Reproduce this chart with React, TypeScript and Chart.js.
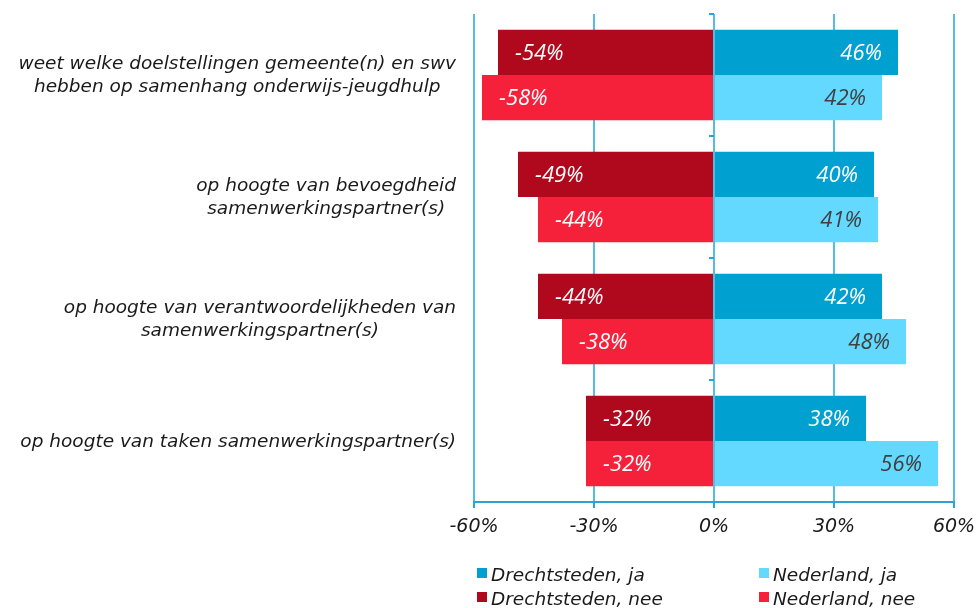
import React, { useEffect, useRef } from "react";
import { Chart, registerables } from "chart.js";
Chart.register(...registerables);

const categories: string[][] = [
  ["weet welke doelstellingen gemeente(n) en swv", "hebben op samenhang onderwijs-jeugdhulp"],
  ["op hoogte van bevoegdheid", "samenwerkingspartner(s)"],
  ["op hoogte van verantwoordelijkheden van", "samenwerkingspartner(s)"],
  ["op hoogte van taken samenwerkingspartner(s)"],
];
const drechtstedenJa = [46, 40, 42, 38];
const nederlandJa = [42, 41, 48, 56];
const drechtstedenNee = [-54, -49, -44, -32];
const nederlandNee = [-58, -44, -38, -32];
const xMin = -60;
const xMax = 60;
const xStep = 30;

const seriesNames = ["Drechtsteden, ja", "Nederland, ja", "Drechtsteden, nee", "Nederland, nee"];
const seriesColors = ["#00A0D0", "#63D9FF", "#B0081C", "#F5213A"];
const labelColors = ["#FFFFFF", "#404040", "#FFFFFF", "#FFFFFF"];
const gridColor = "#55BDE4";
const axisColor = "#2AA3D6";
const textColor = "#1A1A1A";
const catFont = 'italic 18.5px "DejaVu Sans"';

const categoryLabelsPlugin = {
  id: "catLabels",
  afterDraw(chart: any) {
    const ctx = chart.ctx;
    const yScale = chart.scales.y;
    const left = chart.chartArea.left;
    ctx.save();
    ctx.font = catFont;
    ctx.fillStyle = textColor;
    ctx.textAlign = "center";
    ctx.textBaseline = "middle";
    const lh = 23;
    categories.forEach((lines, i) => {
      const cy = yScale.getPixelForValue(i);
      const widest = Math.max(...lines.map((l) => ctx.measureText(l).width));
      const cx = left - 18 - widest / 2;
      lines.forEach((line, j) => {
        ctx.fillText(line, cx, cy + 1 + (j - (lines.length - 1) / 2) * lh);
      });
    });
    ctx.restore();
  },
};

const zeroTicksPlugin = {
  id: "zeroTicks",
  afterDraw(chart: any) {
    const ctx = chart.ctx;
    const x0 = chart.scales.x.getPixelForValue(0);
    const yScale = chart.scales.y;
    ctx.save();
    ctx.strokeStyle = axisColor;
    ctx.lineWidth = 2;
    for (let i = 0; i <= categories.length; i++) {
      const y = Math.round(yScale.getPixelForValue(i - 0.5));
      ctx.beginPath();
      ctx.moveTo(x0 - 5, y);
      ctx.lineTo(x0, y);
      ctx.stroke();
    }
    ctx.restore();
  },
};

const dataLabelsPlugin = {
  id: "dataLabels",
  afterDatasetsDraw(chart: any) {
    const ctx = chart.ctx;
    ctx.save();
    ctx.font = 'italic 22px "Open Sans"';
    ctx.textBaseline = "middle";
    chart.data.datasets.forEach((ds: any, di: number) => {
      const meta = chart.getDatasetMeta(di);
      meta.data.forEach((el: any, i: number) => {
        const v = ds.data[i];
        const { x, y } = el.getProps(["x", "y"], true);
        ctx.fillStyle = labelColors[di];
        if (v < 0) {
          ctx.textAlign = "left";
          ctx.fillText(v + "%", x + 17, y + 1);
        } else {
          ctx.textAlign = "right";
          ctx.fillText(v + "%", x - 16, y + 1);
        }
      });
    });
    ctx.restore();
  },
};

const legendPlugin = {
  id: "customLegend",
  afterDraw(chart: any) {
    const ctx = chart.ctx;
    const left = chart.chartArea.left;
    const colX = [left + 3, left + 285];
    const rowY = [chart.height - 35, chart.height - 11];
    ctx.save();
    ctx.font = catFont;
    ctx.textAlign = "left";
    ctx.textBaseline = "middle";
    seriesNames.forEach((name, i) => {
      const col = i % 2;
      const row = Math.floor(i / 2);
      const bx = colX[col];
      const by = rowY[row];
      ctx.fillStyle = seriesColors[i];
      ctx.fillRect(bx, by - 5, 10, 10);
      ctx.fillStyle = textColor;
      ctx.fillText(name, bx + 14, by + 3);
    });
    ctx.restore();
  },
};

export default function App() {
  const ref = useRef<HTMLCanvasElement | null>(null);
  useEffect(() => {
    if (!ref.current) return;
    const values = [drechtstedenJa, nederlandJa, drechtstedenNee, nederlandNee];
    const stacks = ["D", "N", "D", "N"];
    const chart = new Chart(ref.current, {
      type: "bar",
      data: {
        labels: categories.map((c) => c.join(" ")),
        datasets: values.map((v, i) => ({
          label: seriesNames[i],
          data: v,
          backgroundColor: seriesColors[i],
          borderWidth: 0,
          stack: stacks[i],
          barPercentage: 1,
          categoryPercentage: 0.74,
        })),
      },
      options: {
        indexAxis: "y",
        responsive: false,
        animation: false,
        devicePixelRatio: 1,
        layout: { padding: { top: 14, right: 25, left: 0, bottom: 0 } },
        plugins: { legend: { display: false }, tooltip: { enabled: false } },
        scales: {
          x: {
            stacked: true,
            min: xMin,
            max: xMax,
            afterFit: (scale: any) => {
              scale.height = 106;
              scale.paddingLeft = 0;
              scale.paddingRight = 0;
            },
            ticks: {
              stepSize: xStep,
              padding: 8,
              color: textColor,
              font: { family: "DejaVu Sans", size: 19, style: "italic" },
              callback: (v: any) => v + "%",
            },
            grid: { color: gridColor, lineWidth: 2, drawTicks: true, tickLength: 6, tickColor: axisColor },
            border: { display: true, color: axisColor, width: 2 },
          },
          y: {
            stacked: true,
            afterFit: (scale: any) => {
              scale.width = 474;
            },
            ticks: { display: false },
            grid: { display: false },
            border: { display: false },
          },
        },
      },
      plugins: [zeroTicksPlugin, dataLabelsPlugin, categoryLabelsPlugin, legendPlugin],
    } as any);
    return () => chart.destroy();
  }, []);
  return (
    <div style={{ position: "absolute", left: 0, top: 0, width: 979, height: 608, background: "#fff" }}>
      <canvas ref={ref} width={979} height={608} style={{ display: "block" }} />
    </div>
  );
}
